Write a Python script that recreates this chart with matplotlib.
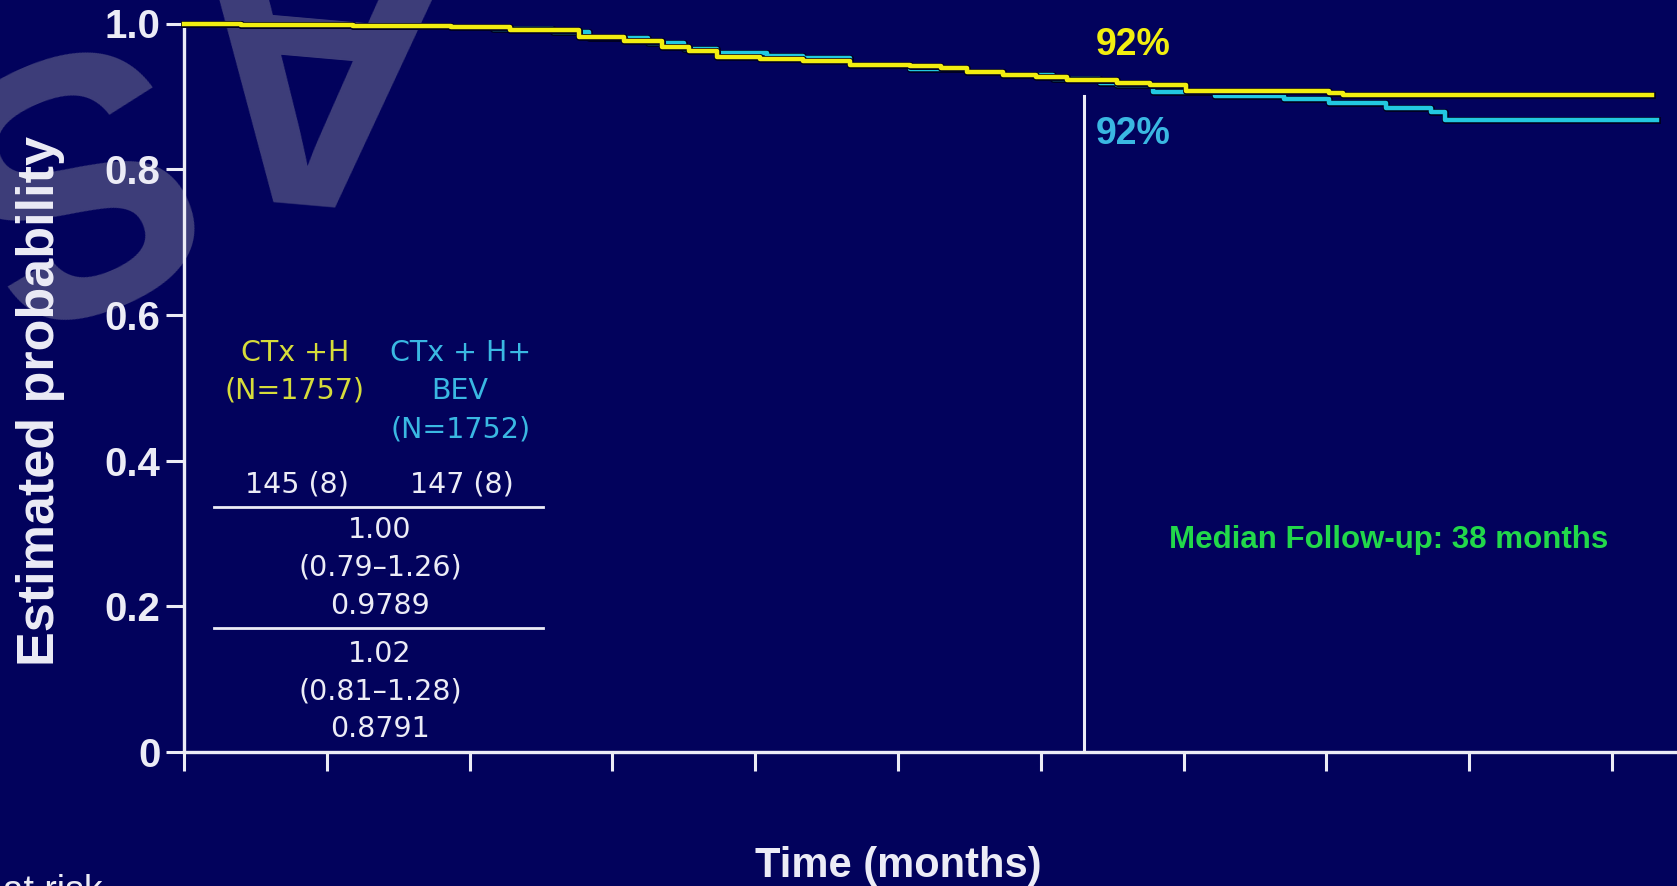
import matplotlib
matplotlib.use("Agg")
import matplotlib.pyplot as plt
import matplotlib.patheffects as pe

# ---------------- data ----------------
time_h = [0, 2.4, 7.1, 11.2, 13.7, 16.6, 18.5, 20.1, 21.2, 22.4, 24.2, 26.0, 28.0,
          30.5, 31.8, 32.9, 34.4, 35.8, 37.1, 39.2, 40.6, 42.1, 48.1, 48.7, 61.7]
surv_h = [1.000, 0.998, 0.997, 0.995, 0.991, 0.982, 0.976, 0.968, 0.962, 0.954, 0.951,
          0.948, 0.943, 0.942, 0.939, 0.934, 0.929, 0.926, 0.922, 0.918, 0.916, 0.908,
          0.904, 0.902, 0.902]

time_b = [0, 2.4, 7.1, 11.2, 13.0, 15.5, 17.0, 19.5, 21.0, 22.4, 24.5, 26.0, 28.0,
          30.5, 32.9, 34.4, 36.5, 38.5, 39.2, 40.7, 43.3, 46.2, 48.1, 50.5, 52.4,
          53.0, 61.9]
surv_b = [1.000, 0.998, 0.997, 0.995, 0.993, 0.988, 0.980, 0.973, 0.965, 0.960, 0.956,
          0.952, 0.943, 0.937, 0.933, 0.929, 0.924, 0.919, 0.916, 0.906, 0.901, 0.896,
          0.891, 0.884, 0.879, 0.868, 0.868]

y_ticks = [0, 0.2, 0.4, 0.6, 0.8, 1.0]
y_ticklabels = ["0", "0.2", "0.4", "0.6", "0.8", "1.0"]
x_ticks = [0, 6, 12, 18, 24, 30, 36, 42, 48, 54, 60]

median_fu = 38
median_line_x = 37.8
label_h = "92%"
label_b = "92%"

hdr_h = ["CTx +H", "(N=1757)"]
hdr_b = ["CTx + H+", "BEV", "(N=1752)"]
events = ["145 (8)", "147 (8)"]
hr1 = ["1.00", "(0.79\u20131.26)", "0.9789"]
hr2 = ["1.02", "(0.81\u20131.28)", "0.8791"]

# ---------------- style ----------------
BG = "#02025c"
YEL = "#f2ee10"
CYA = "#22c8e0"
WHITE = "#ececf6"
TYEL = "#d6dc3a"
TCYA = "#3ab8e2"
GREEN = "#22d84a"
WM = "#3e3e7a"

W, H = 1677, 886
fig = plt.figure(figsize=(W / 100, H / 100), dpi=100, facecolor=BG)

ax_left = 184 / W
ax_bottom = (H - 752) / H
ax_top = (H - 23.5) / H
ax = fig.add_axes([ax_left, ax_bottom, 1 - ax_left, ax_top - ax_bottom])
ax.set_facecolor("none")

# watermark letters (upside-down, partially off the canvas)
for letter, (px, py), rot in zip(["A", "S"], [(300, 46), (42, 160)], [175, 203]):
    fig.text(px / W, 1 - py / H, letter, fontsize=262, fontweight="bold",
             family="Liberation Sans", color=WM, rotation=rot, rotation_mode="anchor",
             ha="center", va="center", zorder=-5)

xmax = (W - 184) / 142.8 * 6
ax.set_xlim(0, xmax)
ax.set_ylim(0, 1.0)

outline = [pe.Stroke(linewidth=5.0, foreground="#000020"), pe.Normal()]
ax.step(time_b, surv_b, where="post", color=CYA, lw=3.2, clip_on=False, zorder=4,
        path_effects=outline)
ax.step(time_h, surv_h, where="post", color=YEL, lw=3.2, clip_on=False, zorder=5,
        path_effects=outline)

ax.plot([median_line_x, median_line_x], [0, 0.90], color=WHITE, lw=2.2, zorder=3)

for s in ["top", "right"]:
    ax.spines[s].set_visible(False)
for s in ["left", "bottom"]:
    ax.spines[s].set_color(WHITE)
    ax.spines[s].set_linewidth(2.4)

ax.set_yticks(y_ticks)
ax.set_yticklabels(y_ticklabels)
ax.set_xticks(x_ticks)
ax.set_xticklabels([])
ax.tick_params(axis="y", length=13, width=2.2, color=WHITE, pad=4, labelsize=29,
               labelcolor=WHITE)
ax.tick_params(axis="x", length=14, width=2.2, color=WHITE)
for t in ax.get_yticklabels():
    t.set_fontweight("bold")
    t.set_family("Liberation Sans")

fig.text(40.6 / W, 1 - 401 / H, "Estimated probability", rotation=90, ha="center",
         va="center", fontsize=37.5, fontweight="bold", family="Liberation Sans",
         color=WHITE)
fig.text(898 / W, 1 - 866 / H, "Time (months)", ha="center", va="center", fontsize=30,
         fontweight="bold", family="Liberation Sans", color=WHITE)
fig.text(103 / W, 1 - 902 / H, "No. at risk", ha="right", va="baseline", fontsize=27,
         family="Liberation Sans", color=WHITE)

# annotations
ax.text(39.9, 0.970, label_h, ha="center", va="center", fontsize=27, fontweight="bold",
        family="Liberation Sans", color=YEL)
ax.text(39.9, 0.848, label_b, ha="center", va="center", fontsize=27, fontweight="bold",
        family="Liberation Sans", color=TCYA)
ax.text(50.6, 0.291, f"Median Follow-up: {median_fu} months", ha="center", va="center",
        fontsize=22.5, fontweight="bold", family="Liberation Sans", color=GREEN)

# table
fs = 20.5
for txt, yv in zip(hdr_h, [0.548, 0.496]):
    ax.text(4.66, yv, txt, ha="center", va="center", fontsize=fs, color=TYEL,
            family="DejaVu Sans")
for txt, yv in zip(hdr_b, [0.548, 0.496, 0.443]):
    ax.text(11.6, yv, txt, ha="center", va="center", fontsize=fs, color=TCYA,
            family="DejaVu Sans")
for txt, xv in zip(events, [4.75, 11.68]):
    ax.text(xv, 0.367, txt, ha="center", va="center", fontsize=fs, color=WHITE,
            family="DejaVu Sans")
ax.plot([1.25, 15.1], [0.336, 0.336], color=WHITE, lw=2.0)
for txt, yv in zip(hr1, [0.305, 0.253, 0.200]):
    ax.text(8.24, yv, txt, ha="center", va="center", fontsize=fs, color=WHITE,
            family="DejaVu Sans")
ax.plot([1.25, 15.1], [0.170, 0.170], color=WHITE, lw=2.0)
for txt, yv in zip(hr2, [0.135, 0.083, 0.032]):
    ax.text(8.24, yv, txt, ha="center", va="center", fontsize=fs, color=WHITE,
            family="DejaVu Sans")

fig.savefig("out.png", dpi=100, facecolor=BG)
